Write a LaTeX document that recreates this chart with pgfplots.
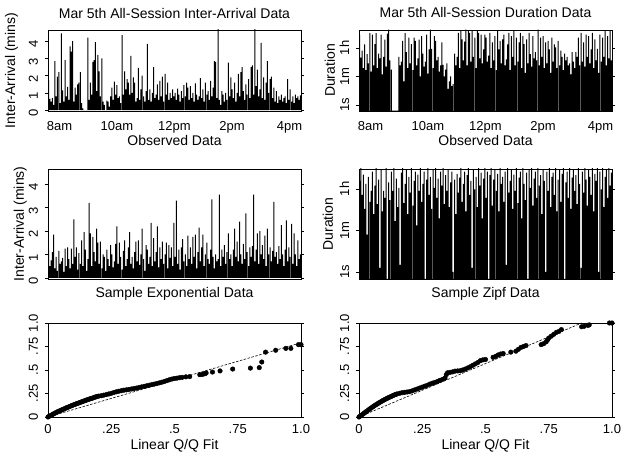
\documentclass[border=0pt]{standalone}
\usepackage{fontspec}
\setmainfont{Liberation Sans}
\usepackage{pgfplots}
\pgfplotsset{compat=1.18}
\usepackage{pgfplotstable}

% Inter-arrival (mins), observed, ~2.4-minute slots from 7:36 to 16:24
\pgfplotstableread[row sep=\\]{y\\
1.75\\0.65\\0.5\\0.7\\0.3\\2.85\\0.8\\1.95\\2.2\\0.4\\
4.45\\1.15\\0.5\\2.9\\0.8\\1.35\\0.6\\3.7\\3.4\\4.0\\
0.5\\1.3\\0.9\\1.5\\1.6\\2.2\\0.4\\0.1\\0\\0\\
0\\4.2\\0.6\\1.6\\0.9\\2.8\\2.9\\3.95\\1.1\\3.2\\
2.25\\0.8\\3.0\\0.5\\0.3\\0\\0.55\\0.5\\0.2\\0.8\\
1.3\\0.6\\1.65\\0.9\\1.45\\0.7\\0.8\\0.4\\4.35\\0.9\\
2.25\\1.2\\1.8\\1.6\\0.9\\3.15\\1.0\\1.9\\1.6\\0.5\\
0.7\\2.45\\0.6\\1.2\\2.0\\0.8\\0.5\\1.1\\3.85\\0.6\\
1.2\\0.5\\1.0\\2.5\\0.7\\0.9\\1.5\\0.6\\1.7\\0.8\\
1.95\\0.5\\2.1\\0.9\\1.6\\0.6\\1.0\\0.7\\1.2\\0.8\\
1.0\\0.6\\1.25\\0.9\\0.5\\1.1\\0.7\\1.45\\0.8\\1.6\\
1.3\\0.6\\1.4\\0.7\\1.0\\0.5\\1.55\\0.9\\0.6\\0.8\\
1.85\\0.7\\1.2\\0.5\\1.6\\0.9\\1.1\\0.6\\1.7\\0.8\\
1.3\\2.85\\2.8\\0.7\\4.8\\0.6\\0.3\\1.1\\0.9\\0.5\\
1.0\\0.6\\2.75\\0.8\\1.9\\1.2\\0.7\\1.6\\0.5\\1.0\\
2.1\\0.8\\2.2\\2.5\\1.1\\0.6\\1.5\\0.9\\1.8\\0.7\\
2.5\\2.6\\0.9\\4.8\\1.4\\2.35\\0.8\\1.2\\3.9\\0.7\\
1.9\\0.6\\1.6\\2.85\\1.0\\1.8\\1.95\\0.7\\1.3\\0.5\\
1.1\\0.4\\0.8\\0.6\\0.9\\0.5\\0.7\\0.8\\0.4\\1.8\\
0.6\\1.2\\0.5\\0.8\\0.4\\0.9\\0.7\\0.8\\0.6\\0.85\\
}\TLdata

% Session duration (seconds), observed
\pgfplotstableread[row sep=\\]{y\\
23000\\900\\2500\\200\\6000\\150\\1500\\400\\30000\\120\\
25000\\300\\6300\\31000\\200\\1600\\800\\25000\\80\\1000\\
12000\\250\\28000\\50000\\600\\160\\0.45\\0.45\\0.45\\0.45\\
0.45\\1000\\300\\500\\10000\\30\\31000\\2000\\200\\16000\\
400\\6300\\150\\16000\\10000\\300\\800\\12000\\60\\20000\\
1600\\250\\500\\25000\\90\\3000\\50000\\3200\\200\\20000\\
10000\\600\\1000\\120\\300\\8000\\316\\60\\160\\400\\
10\\30\\60\\15\\20\\1600\\300\\1000\\31600\\200\\
40000\\12600\\600\\9000\\50000\\300\\40000\\31600\\500\\40000\\
1000\\16000\\200\\40000\\31600\\800\\25000\\400\\3000\\25000\\
16000\\500\\1200\\31600\\200\\8000\\600\\20000\\150\\40000\\
3000\\10000\\400\\12600\\25000\\300\\700\\6000\\31600\\150\\
20000\\1000\\40000\\300\\16000\\500\\8000\\31600\\200\\20000\\
6300\\100\\12600\\400\\31600\\1500\\250\\20000\\800\\2000\\
600\\50000\\300\\16000\\1000\\20000\\200\\8000\\400\\10000\\
3000\\100\\16000\\500\\6000\\4000\\200\\10000\\300\\2500\\
1000\\150\\1600\\600\\1000\\300\\400\\80\\2000\\500\\
200\\2000\\1000\\16000\\300\\31600\\500\\8000\\250\\25000\\
1000\\20000\\400\\3000\\31600\\200\\12600\\600\\3200\\100\\
25000\\500\\16000\\1000\\40000\\300\\20000\\800\\40000\\600\\
}\TRdata

% Sample exponential inter-arrivals (mins)
\pgfplotstableread[row sep=\\]{y\\
1.2\\0.5\\0.75\\1.1\\1.85\\0.4\\0.9\\0.3\\1.15\\0.6\\
0.7\\0.85\\0.25\\1.25\\0.5\\1.3\\0.8\\0.4\\1.25\\0.6\\
2.5\\0.9\\1.3\\0.35\\1.05\\0.6\\1.6\\0.5\\1.95\\1.2\\
0.3\\0.8\\3.2\\1.9\\0.5\\1.75\\1.1\\0.7\\2.1\\1.5\\
0.6\\1.55\\0.4\\1.0\\0.9\\0.3\\1.2\\0.8\\0.5\\1.4\\
1.0\\0.45\\0.7\\1.45\\2.2\\0.6\\1.5\\0.9\\0.35\\1.15\\
1.6\\0.5\\0.8\\1.3\\1.95\\0.6\\0.9\\0.4\\1.1\\1.55\\
0.7\\1.6\\0.55\\1.0\\2.1\\0.8\\0.3\\1.4\\1.2\\0.6\\
0.9\\2.35\\0.5\\1.7\\0.7\\1.1\\2.2\\0.45\\1.3\\0.8\\
1.55\\0.6\\1.0\\1.5\\0.4\\1.4\\0.85\\1.3\\0.5\\2.35\\
0.9\\3.3\\0.6\\1.2\\0.35\\1.3\\1.65\\0.7\\1.0\\0.5\\
1.8\\0.8\\1.3\\0.6\\1.75\\0.9\\1.85\\0.4\\1.1\\2.15\\
0.7\\1.3\\1.85\\0.5\\1.0\\1.5\\0.8\\0.6\\1.2\\3.35\\
0.9\\0.4\\1.0\\0.7\\0.8\\3.55\\0.5\\1.2\\0.9\\1.4\\
0.6\\1.1\\1.9\\0.8\\1.0\\0.5\\1.2\\2.1\\0.9\\1.55\\
0.7\\2.4\\1.0\\0.6\\1.45\\0.8\\2.75\\1.1\\0.5\\1.3\\
0.9\\1.35\\3.55\\0.7\\1.2\\1.9\\0.6\\2.0\\1.0\\1.4\\
0.8\\1.8\\0.5\\2.1\\1.0\\1.3\\0.7\\1.15\\3.25\\0.9\\
1.1\\0.6\\1.35\\0.8\\2.25\\1.0\\0.5\\1.2\\2.45\\0.7\\
1.3\\0.9\\2.3\\0.6\\1.9\\1.0\\0.5\\1.6\\0.8\\1.0\\
}\MLdata

% Sample Zipf durations (seconds)
\pgfplotstableread[row sep=\\]{y\\
8000\\30000\\2000\\15000\\500\\6000\\40\\12000\\1000\\3000\\
20000\\300\\5000\\30000\\800\\9000\\1.5\\25000\\400\\3000\\
1500\\30000\\0.5\\7000\\1200\\20000\\3000\\30000\\150\\10000\\
600\\4000\\2.0\\18000\\30000\\900\\6000\\25000\\300\\12000\\
2500\\30000\\700\\8000\\20000\\100\\15000\\3000\\30000\\1000\\
6000\\20000\\0.5\\9000\\30000\\2000\\12000\\500\\25000\\4000\\
30000\\1500\\10000\\200\\20000\\5000\\30000\\800\\14000\\3000\\
25000\\600\\7000\\20000\\1.0\\9000\\300\\16000\\2500\\11000\\
30000\\1000\\6000\\20000\\400\\14000\\30000\\2000\\8000\\1.5\\
25000\\3500\\12000\\600\\30000\\5000\\18000\\200\\10000\\30000\\
1500\\20000\\0.5\\14000\\30000\\700\\9000\\25000\\3000\\16000\\
400\\30000\\6000\\12000\\1000\\20000\\2.0\\30000\\2500\\8000\\
25000\\500\\15000\\3000\\30000\\900\\11000\\20000\\200\\30000\\
6000\\1200\\18000\\0.5\\25000\\4000\\30000\\700\\10000\\20000\\
1500\\30000\\5000\\14000\\300\\25000\\8000\\1.0\\20000\\3000\\
30000\\600\\12000\\18000\\2000\\30000\\400\\9000\\25000\\1000\\
16000\\30000\\0.5\\7000\\20000\\1500\\30000\\500\\11000\\25000\\
3000\\14000\\800\\30000\\6000\\1.5\\20000\\2500\\30000\\9000\\
700\\25000\\12000\\2000\\30000\\400\\16000\\8000\\30000\\1.0\\
20000\\3500\\30000\\600\\12000\\25000\\1500\\30000\\5000\\18000\\
}\MRdata

\newcommand{\lbl}{\fontsize{14}{16}\selectfont}
\newcommand{\tck}{\fontsize{13}{15}\selectfont}

\pgfplotsset{
  panel/.style={
    scale only axis, width=253pt, anchor=south west,
    axis line style={black, line width=0.7pt},
    tick align=outside, major tick length=3pt,
    ytick style={black, line width=0.6pt},
    xtick style={draw=none},
    /pgf/number format/assume math mode=true,
    yticklabel style={font=\tck, inner sep=0pt, xshift=-7pt, rotate=90, anchor=base},
    xticklabel style={font=\tck, inner sep=0pt, anchor=base, yshift=-17pt},
    label style={font=\lbl, inner sep=0pt},
    title style={font=\lbl, inner sep=0pt, anchor=base},
    xlabel style={anchor=base},
    ylabel style={anchor=base, rotate=0},
    minor tick num=0,
  },
  spike/.style={ybar, bar width=1.0pt, bar shift=0pt, fill=black, draw=none},
  timeaxis/.style={xmin=-0.5, xmax=199.5,
    xtick={8.59,54.05,99.5,144.95,190.41},
    xticklabels={8am,10am,12pm,2pm,4pm}},
}

\begin{document}
\begin{tikzpicture}
\useasboundingbox (0,0) rectangle (622pt,454pt);

% ---------- top left
\begin{axis}[panel, timeaxis, at={(48pt,343pt)}, height=81pt,
  ymin=-0.05, ymax=4.65, ytick={0,1,2,3,4},
  yticklabel style={xshift=-3pt},
  title={Mar 5th All-Session Inter-Arrival Data},
  title style={at={(axis description cs:0.5,1.0617)}},
  xlabel={Observed Data},
  xlabel style={at={(axis description cs:0.5,-0.432)}},
  ylabel={Inter-Arrival (mins)},
  ylabel style={at={(axis description cs:-0.1304,0.5)}},
]
\addplot[spike] table[x expr=\coordindex, y=y] {\TLdata};
\end{axis}

% ---------- top right
\begin{axis}[panel, timeaxis, at={(359pt,343pt)}, height=81pt,
  ymode=log, log origin=infty, ymin=0.42, ymax=47800,
  ytick={1,60,3600}, yticklabels={1s,1m,1h},
  title={Mar 5th All-Session Duration Data},
  title style={at={(axis description cs:0.5,1.074)}},
  xlabel={Observed Data},
  xlabel style={at={(axis description cs:0.5,-0.432)}},
  ylabel={Duration},
  ylabel style={at={(axis description cs:-0.0949,0.5)}},
]
\addplot[spike] table[x expr=\coordindex, y=y] {\TRdata};
\end{axis}

% ---------- middle left
\begin{axis}[panel, at={(48pt,175pt)}, height=110pt,
  xmin=-0.5, xmax=199.5, xtick=\empty,
  ymin=-0.05, ymax=4.65, ytick={0,1,2,3,4},
  yticklabel style={xshift=-3pt},
  xlabel={Sample Exponential Data},
  xlabel style={at={(axis description cs:0.5,-0.1727)}},
  ylabel={Inter-Arrival (mins)},
  ylabel style={at={(axis description cs:-0.0949,0.5)}},
]
\addplot[spike] table[x expr=\coordindex, y=y] {\MLdata};
\end{axis}

% ---------- middle right
\begin{axis}[panel, at={(359pt,175pt)}, height=110pt,
  xmin=-0.5, xmax=199.5, xtick=\empty,
  ymode=log, log origin=infty, ymin=0.5, ymax=25900,
  ytick={1,60,3600}, yticklabels={1s,1m,1h},
  xlabel={Sample Zipf Data},
  xlabel style={at={(axis description cs:0.5,-0.1727)}},
  ylabel={Duration},
  ylabel style={at={(axis description cs:-0.1028,0.5)}},
]
\addplot[spike] table[x expr=\coordindex, y=y] {\MRdata};
\end{axis}

% ---------- bottom left
\begin{axis}[panel, at={(48pt,37pt)}, height=94pt,
  xmin=0, xmax=1, ymin=0, ymax=1,
  xtick={0,0.25,0.5,0.75,1}, xticklabels={0,.25,.5,.75,1.0},
  ytick={0,0.25,0.5,0.75,1}, yticklabels={0,.25,.5,.75,1.0},
  xticklabel style={yshift=3pt},
  xlabel={Linear Q/Q Fit},
  xlabel style={at={(axis description cs:0.5,-0.345)}},
  clip=false,
]
\addplot[black, line width=0.6pt, dash pattern=on 2.5pt off 1.5pt] coordinates {(0,0) (1,0.79)};
\addplot[only marks, mark=*, mark size=2.3pt, black] coordinates {
(0,0)(0.005,0.008)(0.01,0.015)(0.015,0.022)(0.02,0.03)(0.025,0.037)(0.03,0.045)(0.035,0.051)(0.04,0.058)(0.045,0.064)(0.05,0.07)
(0.055,0.076)(0.06,0.082)(0.065,0.088)(0.07,0.094)(0.075,0.1)(0.08,0.105)(0.085,0.111)(0.09,0.117)(0.095,0.122)(0.1,0.128)
(0.105,0.133)(0.11,0.138)(0.115,0.143)(0.12,0.148)(0.125,0.153)(0.13,0.158)(0.135,0.163)(0.14,0.168)(0.145,0.173)(0.15,0.178)
(0.155,0.183)(0.16,0.187)(0.165,0.192)(0.17,0.196)(0.175,0.2)(0.18,0.205)(0.185,0.21)(0.19,0.215)(0.195,0.219)(0.2,0.222)
(0.21,0.226)(0.22,0.232)(0.23,0.238)(0.24,0.245)(0.25,0.252)(0.26,0.26)(0.27,0.268)(0.28,0.274)(0.29,0.28)(0.3,0.285)
(0.31,0.289)(0.32,0.293)(0.33,0.298)(0.34,0.303)(0.35,0.308)(0.36,0.314)(0.37,0.32)(0.38,0.326)(0.39,0.332)(0.4,0.338)
(0.41,0.344)(0.42,0.35)(0.43,0.356)(0.44,0.363)(0.45,0.37)(0.46,0.378)(0.47,0.387)(0.48,0.396)(0.49,0.404)(0.5,0.41)
(0.51,0.413)(0.52,0.418)(0.53,0.422)(0.545,0.427)(0.56,0.43)
(0.6,0.45)(0.61,0.452)(0.62,0.46)(0.625,0.468)(0.65,0.478)(0.68,0.49)(0.73,0.51)(0.8,0.52)(0.835,0.525)(0.845,0.585)
(0.86,0.69)(0.9,0.71)(0.94,0.73)(0.96,0.73)(0.99,0.77)(1.0,0.77)
};
\end{axis}

% ---------- bottom right
\begin{axis}[panel, at={(359pt,37pt)}, height=94pt,
  xmin=0, xmax=1, ymin=0, ymax=1,
  xtick={0,0.25,0.5,0.75,1}, xticklabels={0,.25,.5,.75,1.0},
  ytick={0,0.25,0.5,0.75,1}, yticklabels={0,.25,.5,.75,1.0},
  xticklabel style={yshift=3pt},
  xlabel={Linear Q/Q Fit},
  xlabel style={at={(axis description cs:0.5,-0.345)}},
  clip=false,
]
\addplot[black, line width=0.6pt, dash pattern=on 2.5pt off 1.5pt] coordinates {(0,0) (0.88,1)};
\addplot[only marks, mark=*, mark size=2.3pt, black] coordinates {
(0,0)(0.005,0.01)(0.01,0.02)(0.015,0.03)(0.02,0.04)(0.025,0.05)(0.03,0.06)(0.035,0.07)(0.04,0.08)(0.045,0.09)(0.05,0.1)
(0.055,0.109)(0.06,0.118)(0.065,0.127)(0.07,0.135)(0.075,0.144)(0.08,0.152)(0.085,0.16)(0.09,0.168)(0.095,0.176)(0.1,0.183)
(0.105,0.19)(0.11,0.197)(0.115,0.204)(0.12,0.21)(0.125,0.216)(0.13,0.222)(0.135,0.229)(0.14,0.235)(0.145,0.24)(0.15,0.245)
(0.16,0.252)(0.17,0.258)(0.18,0.262)(0.19,0.266)(0.2,0.27)(0.21,0.278)(0.22,0.288)(0.23,0.298)(0.24,0.308)(0.25,0.318)
(0.26,0.328)(0.27,0.338)(0.28,0.35)(0.29,0.36)(0.3,0.368)(0.31,0.378)(0.32,0.39)(0.33,0.4)(0.34,0.415)(0.345,0.45)
(0.35,0.47)(0.36,0.475)(0.37,0.48)(0.38,0.488)(0.39,0.49)(0.4,0.492)(0.41,0.5)(0.42,0.51)(0.43,0.522)(0.44,0.535)
(0.45,0.55)(0.46,0.565)(0.47,0.58)(0.48,0.6)(0.49,0.608)(0.5,0.612)(0.53,0.635)(0.54,0.645)(0.55,0.66)(0.56,0.67)
(0.57,0.675)(0.6,0.69)(0.62,0.7)(0.63,0.72)(0.64,0.74)(0.65,0.75)(0.66,0.76)(0.72,0.77)(0.73,0.78)(0.74,0.8)
(0.745,0.82)(0.75,0.84)(0.76,0.86)(0.77,0.88)(0.78,0.9)(0.79,0.91)(0.8,0.93)(0.88,0.96)(0.89,0.965)(0.905,0.975)
(0.91,0.98)(0.99,1.0)(1.0,1.0)
};
\end{axis}
\end{tikzpicture}
\end{document}
